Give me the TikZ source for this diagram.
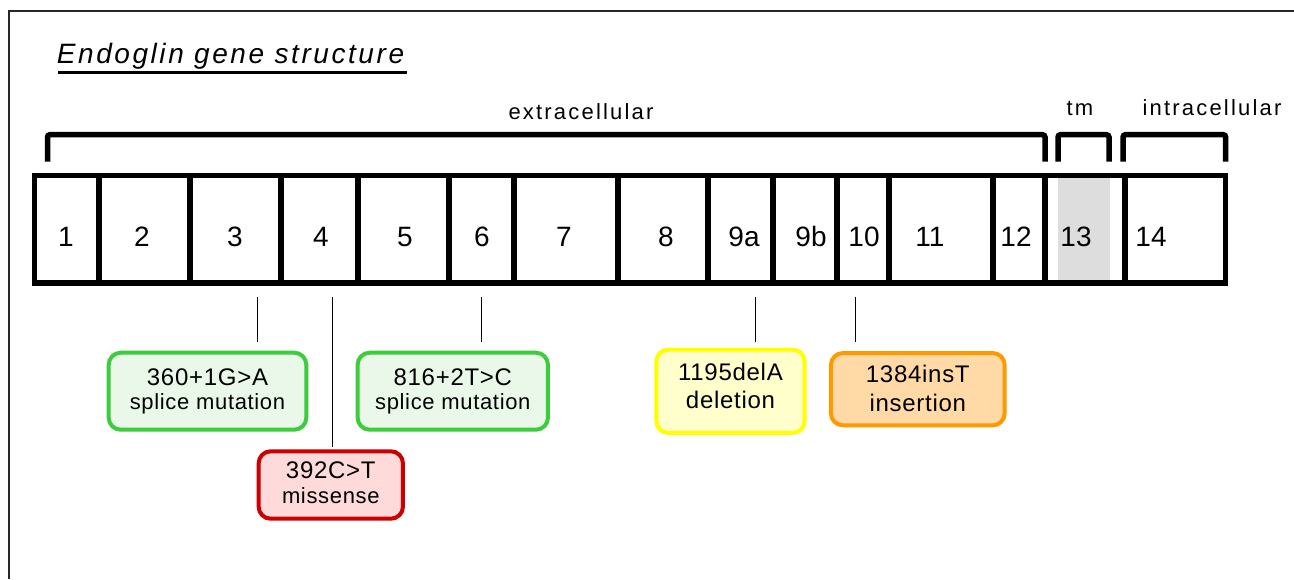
\documentclass[tikz,border=0pt]{standalone}
\usepackage{fontspec}
\setmainfont{Liberation Sans}
\newfontfamily\trkfont[LetterSpace=10]{Liberation Sans}
\newfontfamily\ttlfont[LetterSpace=9.2]{Liberation Sans}
\newfontfamily\mutfont[LetterSpace=3]{Liberation Sans}
\definecolor{gstroke}{HTML}{3CCC3C}
\definecolor{gfill}{HTML}{EAF8EA}
\definecolor{rstroke}{HTML}{CC0000}
\definecolor{rfill}{HTML}{FFDADA}
\definecolor{ystroke}{HTML}{FFFF00}
\definecolor{yfill}{HTML}{FFFFCC}
\definecolor{ostroke}{HTML}{FF9900}
\definecolor{ofill}{HTML}{FFDAA6}
\definecolor{tmgray}{HTML}{DDDDDD}
\begin{document}
\begin{tikzpicture}[x=1pt,y=-1pt,
  exonline/.style={line width=5.5pt, line join=miter},
  bracket/.style={line width=5.5pt, rounded corners=2.5pt},
  lbl/.style={font=\trkfont\fontsize{22}{24}\selectfont, inner sep=0pt},
  exlbl/.style={font=\fontsize{28}{30}\selectfont, inner sep=0pt},
  mut/.style={draw, line width=4pt, rounded corners=12pt, align=center, inner sep=0pt},
  conn/.style={line width=1.5pt, black}
]
\useasboundingbox (0,0) rectangle (1294,579);
% frame
\draw[line width=2.3pt, black!85] (1294,10.8) -- (8.7,10.8) -- (8.7,579);
% title
\node[anchor=base west, inner sep=0pt, font=\ttlfont\itshape\fontsize{28}{30}\selectfont] (title) at (56.7,63.6) {Endoglin gene structure};
\draw[line width=3pt] (58.3,72.3) -- (407.3,72.3);
% brackets
\draw[bracket] (47.5,161.7) -- (47.5,134.7) -- (1045,134.7) -- (1045,161.7);
\draw[bracket] (1058,161.7) -- (1058,134.7) -- (1109,134.7) -- (1109,161.7);
\draw[bracket] (1123,161.7) -- (1123,134.7) -- (1225.7,134.7) -- (1225.7,161.7);
\node[lbl, anchor=base] (ext) at (581,119.3) {extracellular};
\node[lbl, anchor=base] (tm) at (1080,115) {tm};
\node[lbl, anchor=base] (intra) at (1212,115) {intracellular};
% exon bar
\fill[tmgray] (1058.3,178) rectangle (1110,280);
\draw[exonline] (34.5,175.5) rectangle (1225.7,283);
\foreach \x in {99,190,281,358,449,514,618,708,773,837,889,993,1045,1125}
  \draw[exonline] (\x,175.5) -- (\x,283);
\foreach \t/\x [count=\i] in {1/66,2/142,3/235,4/321,5/405,6/482,7/564,8/666,9a/744,9b/811,10/864,11/930,12/1016,13/1076,14/1151}
  \node[exlbl, anchor=base] (e\i) at (\x,246.5) {\t};
% mutation boxes
\node[mut, draw=gstroke, fill=gfill, minimum width=197.6pt, minimum height=77pt,
  font=\mutfont\fontsize{22}{24}\selectfont] (g1) at (207.5,391.2)
  {{\fontsize{24}{24}\selectfont 360+1G>A}\\splice mutation};
\node[mut, draw=gstroke, fill=gfill, minimum width=190.3pt, minimum height=77pt,
  font=\mutfont\fontsize{22}{24}\selectfont] (g2) at (452.8,391.2)
  {{\fontsize{24}{24}\selectfont 816+2T>C}\\splice mutation};
\node[mut, draw=rstroke, fill=rfill, minimum width=144.3pt, minimum height=67.4pt,
  font=\mutfont\fontsize{22}{25}\selectfont] (r1) at (330.8,485)
  {{\fontsize{24}{24}\selectfont 392C>T}\\missense\rule[-4.5pt]{0pt}{4.5pt}};
\node[mut, draw=ystroke, fill=yfill, minimum width=148.4pt, minimum height=83.3pt,
  font=\mutfont\fontsize{24}{28}\selectfont] (y1) at (730.5,391.3)
  {1195delA\\deletion\rule[-11pt]{0pt}{11pt}};
\node[mut, draw=ostroke, fill=ofill, minimum width=173.7pt, minimum height=72.3pt,
  font=\mutfont\fontsize{24}{29}\selectfont] (o1) at (917.8,389.2)
  {1384insT\\insertion\rule[-1pt]{0pt}{1pt}};
% connectors
\coordinate (m1) at (257.7,296.7);
\coordinate (m2) at (332.3,296.7);
\coordinate (m3) at (481.7,296.7);
\coordinate (m4) at (755.7,296.7);
\coordinate (m5) at (855.3,296.7);
\draw[conn, shorten >=8.4pt] (m1) -- (m1 |- g1.north);
\draw[conn, shorten >=2.6pt] (m2) -- (m2 |- r1.north);
\draw[conn, shorten >=8.4pt] (m3) -- (m3 |- g2.north);
\draw[conn, shorten >=5.4pt] (m4) -- (m4 |- y1.north);
\draw[conn, shorten >=8.7pt] (m5) -- (m5 |- o1.north);
\end{tikzpicture}
\end{document}
